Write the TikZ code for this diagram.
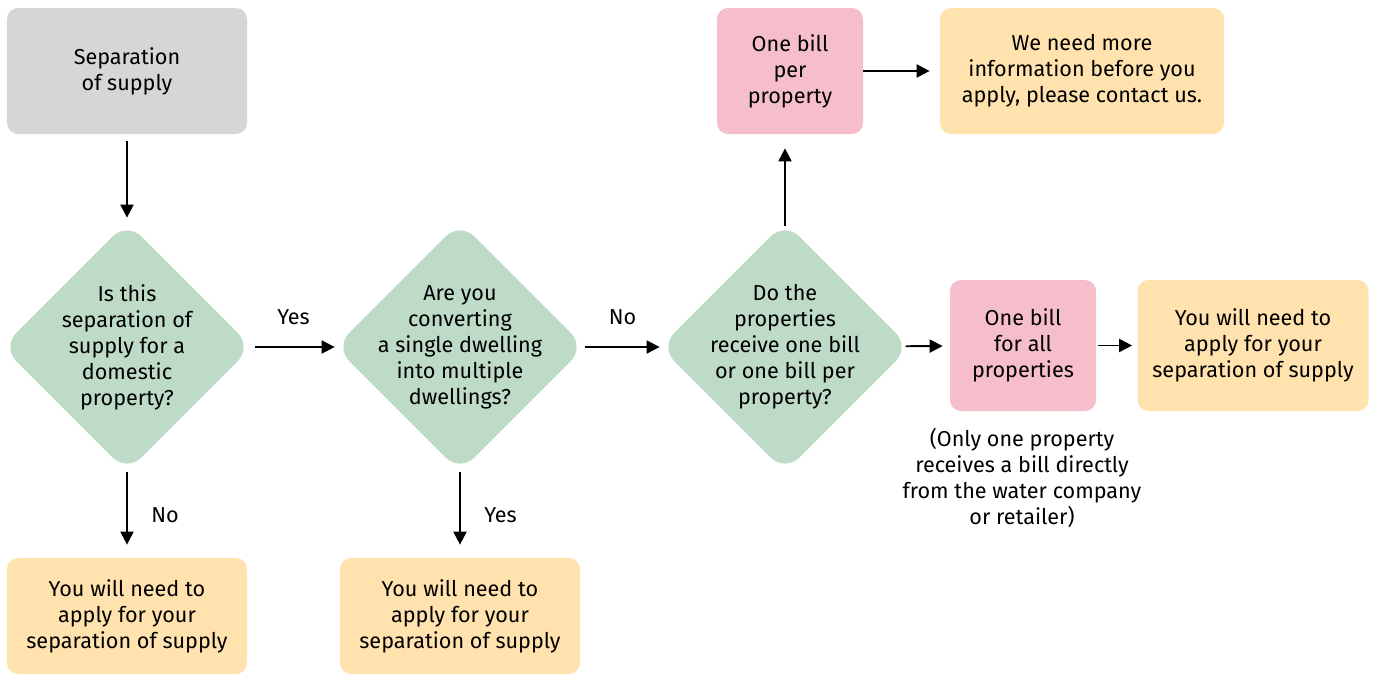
\documentclass[tikz,border=0pt]{standalone}
\usepackage{fontspec}
\setmainfont{Fira Sans}
\usepackage{tikz}
\usetikzlibrary{arrows.meta,positioning,shapes.geometric}
\definecolor{boxgrey}{HTML}{D6D6D6}
\definecolor{qgreen}{HTML}{BEDBC8}
\definecolor{billpink}{HTML}{F6BDCA}
\definecolor{ansyellow}{HTML}{FFE2AE}

\begin{document}
\begin{tikzpicture}[
  font=\fontsize{12.3}{14.8}\selectfont,
  box/.style={rectangle, rounded corners=0.22cm, align=center, inner sep=0pt},
  qdiamond/.style={diamond, fill=qgreen, rounded corners=0.4cm, minimum size=5cm, inner sep=0pt},
  qtext/.style={align=center},
  arr/.style={line width=1.1pt, -{Triangle[length=0.26cm,width=0.26cm]}}
]
\useasboundingbox (0,0) rectangle (27.5,-13.5);

% top row
\node[box, fill=boxgrey, minimum width=4.8cm, minimum height=2.52cm] (start) at (2.54,-1.42) {Separation\\of supply};
\node[box, fill=billpink, minimum width=2.92cm, minimum height=2.52cm] (perprop) at (15.8,-1.42) {One bill\\per\\property};
\node[box, fill=ansyellow, minimum width=5.68cm, minimum height=2.52cm] (moreinfo) at (21.64,-1.42) {We need more\\information before you\\apply, please contact us.};

% questions
\node[qdiamond] (q1) at (2.54,-6.94) {};
\node[qtext] at (q1) {Is this\\separation of\\supply for a\\domestic\\property?};
\node[qdiamond] (q2) at (9.2,-6.94) {};
\node[qtext] at (q2) {Are you\\converting\\a single dwelling\\into multiple\\dwellings?};
\node[qdiamond] (q3) at (15.7,-6.94) {};
\node[qtext] at (q3) {Do the\\properties\\receive one bill\\or one bill per\\property?};

% right row
\node[box, fill=billpink, minimum width=2.92cm, minimum height=2.62cm] (allprop) at (20.46,-6.91) {One bill\\for all\\properties};
\node[box, fill=ansyellow, minimum width=4.62cm, minimum height=2.62cm] (apply3) at (25.06,-6.91) {You will need to\\apply for your\\separation of supply};
\node[qtext] (note) at (20.44,-9.56) {(Only one property\\receives a bill directly\\from the water company\\or retailer)};

% bottom row
\node[box, fill=ansyellow, minimum width=4.8cm, minimum height=2.32cm] (apply1) at (2.54,-12.32) {You will need to\\apply for your\\separation of supply};
\node[box, fill=ansyellow, minimum width=4.8cm, minimum height=2.32cm] (apply2) at (9.2,-12.32) {You will need to\\apply for your\\separation of supply};

% arrows
\draw[arr, shorten <=0.14cm, shorten >=0.08cm] (start) -- (q1);
\draw[arr, shorten <=0.06cm] (q1) -- node[above=0.3cm] {Yes} (q2);
\draw[arr] (q2) -- node[above=0.3cm] {No} (q3);
\draw[arr, shorten <=-0.08cm, shorten >=0.28cm] (q3.north) -- (q3.north |- perprop.south);
\draw[arr, shorten >=0.2cm] (perprop) -- (moreinfo);
\draw[arr, shorten <=-0.08cm, shorten >=0.14cm] (q3) -- (allprop);
\draw[arr, shorten <=0.04cm, shorten >=0.1cm] (allprop) -- (apply3);
\draw[arr, shorten >=0.26cm] (q1) -- node[right=0.35cm] {No} (apply1);
\draw[arr, shorten >=0.26cm] (q2) -- node[right=0.35cm] {Yes} (apply2);
\end{tikzpicture}
\end{document}
